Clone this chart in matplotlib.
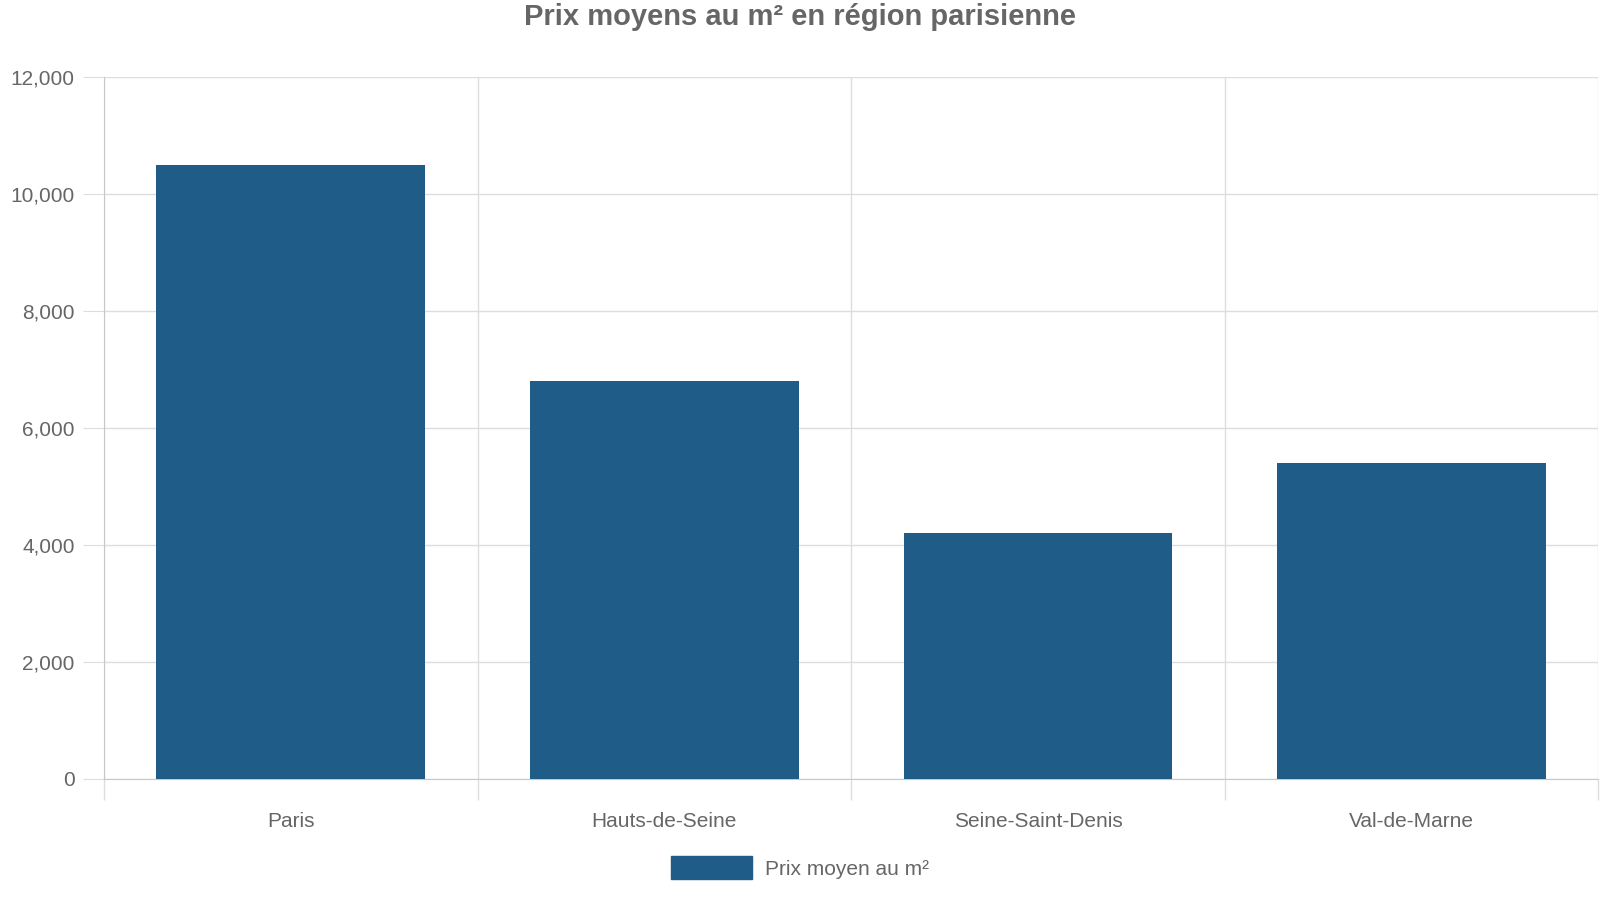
import matplotlib
matplotlib.use("Agg")
import matplotlib.pyplot as plt
import numpy as np
from matplotlib.ticker import FuncFormatter, FixedLocator
from matplotlib.patches import Patch

categories = ["Paris", "Hauts-de-Seine", "Seine-Saint-Denis", "Val-de-Marne"]
values = [10500, 6800, 4200, 5400]
series_label = "Prix moyen au m²"
title = "Prix moyens au m² en région parisienne"

plt.rcParams['font.family'] = ['Liberation Sans', 'DejaVu Sans']
grey = "#666666"
gridc = "#dddddd"
barc = "#1f5c87"

fig = plt.figure(figsize=(16, 9), dpi=100)
ax = fig.add_axes([0.065, 0.135, 0.934, 0.779])
x = np.arange(len(categories))
ax.bar(x, values, width=0.72, color=barc, zorder=3)
ax.set_xlim(-0.5, len(categories) - 0.5)
ax.set_ylim(0, 12000)
ax.set_yticks(np.arange(0, 12001, 2000))
ax.yaxis.set_major_formatter(FuncFormatter(lambda v, p: f"{int(v):,}"))
ax.set_xticks(x)
ax.set_xticklabels(categories)
ax.xaxis.set_minor_locator(FixedLocator(np.arange(-0.5, len(categories), 1.0)))
ax.tick_params(axis='x', which='major', length=0, pad=24, labelsize=15, labelcolor=grey)
ax.tick_params(axis='x', which='minor', length=15, color=gridc, width=1)
ax.tick_params(axis='y', length=15, color=gridc, labelsize=15, labelcolor=grey, pad=6)
ax.grid(axis='y', color=gridc, lw=1, zorder=0)
ax.grid(axis='x', which='minor', color=gridc, lw=1, zorder=0)
for s in ['top', 'right']:
    ax.spines[s].set_visible(False)
for s in ['left', 'bottom']:
    ax.spines[s].set_color("#c8c8c8")
ax.set_axisbelow(True)

fig.suptitle(title, y=0.997, va='top', fontsize=21, fontweight='bold', color=grey)
fig.legend(handles=[Patch(color=barc, label=series_label)], loc='center',
           bbox_to_anchor=(0.5, 0.036), frameon=False, fontsize=15,
           labelcolor=grey, handlelength=3.9, handleheight=1.3, handletextpad=0.6)
fig.savefig("out.png", dpi=100)
